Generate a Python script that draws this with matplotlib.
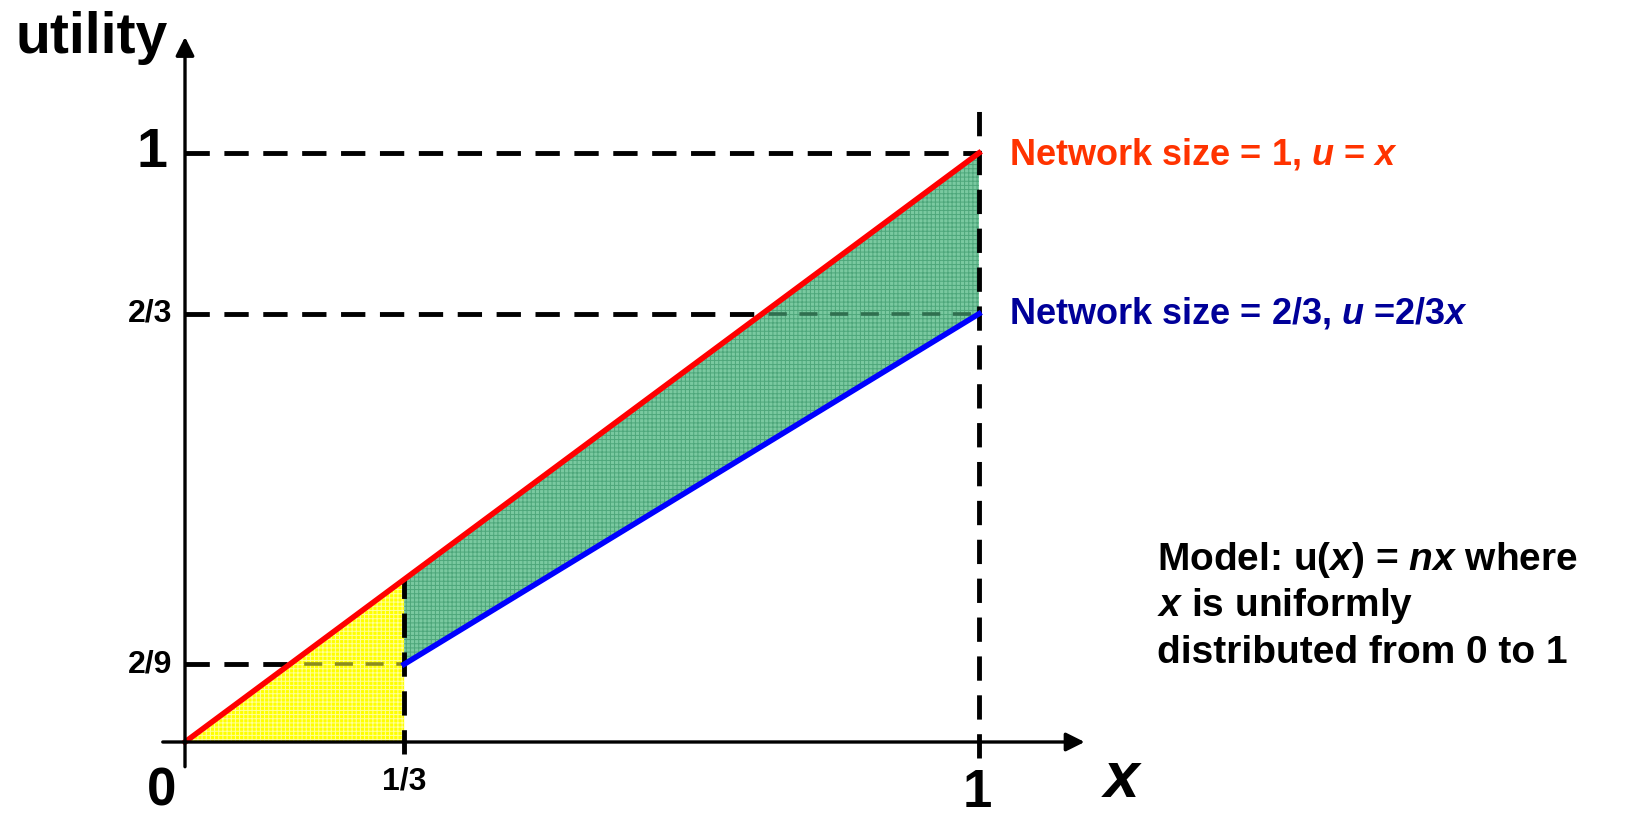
import numpy as np
import matplotlib
matplotlib.use('Agg')
import matplotlib.pyplot as plt

plt.rcParams['font.family'] = ['Liberation Sans', 'DejaVu Sans']
plt.rcParams['font.weight'] = 'bold'
plt.rcParams['mathtext.fontset'] = 'custom'
plt.rcParams['mathtext.rm'] = 'Liberation Sans:bold'
plt.rcParams['mathtext.it'] = 'Liberation Sans:bold:italic'
plt.rcParams['hatch.linewidth'] = 0.7

# network sizes and the break point where the smaller network starts
n_big = 1.0
n_small = 2 / 3
x_cut = 1 / 3

x_big = [0, 1]
u_big = [n_big * v for v in x_big]
x_small = [x_cut, 1]
u_small = [n_small * v for v in x_small]

x_ticks = [0, 1 / 3, 1]
x_ticklabels = ['0', '1/3', '1']
y_ticks = [2 / 9, 2 / 3, 1]
y_ticklabels = ['2/9', '2/3', '1']

model_lines = ['Model: u($x$) = $nx$ where',
               '$x$ is uniformly',
               'distributed from 0 to 1']

# schematic (piecewise linear) axes, the way the sketch is drawn
xk_data = [-1, 0, 1 / 3, 1, 2]
xk_view = [-1, 0, 0.276, 1, 2]
yk_data = [-1, 0, 2 / 9, 1 / 3, 2 / 3, 1, 2]
yk_view = [-1, 0, 0.132, 0.276, 0.727, 1, 2]


def fx(v):
    return np.interp(v, xk_data, xk_view)


def fx_inv(v):
    return np.interp(v, xk_view, xk_data)


def fy(v):
    return np.interp(v, yk_data, yk_view)


def fy_inv(v):
    return np.interp(v, yk_view, yk_data)


fig = plt.figure(figsize=(16.35, 8.15), dpi=100)
ax = fig.add_axes([0, 0, 1, 1])
ax.set_xscale('function', functions=(fx, fx_inv))
ax.set_yscale('function', functions=(fy, fy_inv))
ax.set_xlim(-185 / 794, 1450 / 794)
ax.set_ylim(-73 / 589, 742 / 589)
ax.axis('off')

dash = (0, (5, 3))
dkw = dict(color='black', lw=3.5, ls=dash, zorder=1, dash_capstyle='butt')

y_low = n_small * x_cut

# guide lines (the horizontal ones run under the shading)
ax.plot([0, 1], [1, 1], **dkw)
ax.plot([0, 1], [n_small, n_small], **dkw)
ax.plot([0, x_cut], [y_low, y_low], **dkw)
ax.plot([x_cut, x_cut], [-0.02, n_big * x_cut], **dict(dkw, zorder=2.5))
ax.plot([1, 1], [-0.027, 1.083], **dict(dkw, zorder=2.5))

# shaded areas
yellow = ax.fill_between([0, x_cut], [0, 0], [0, n_big * x_cut],
                         facecolor='#ffff00', edgecolor='#ffff9a',
                         hatch='++++', linewidth=0, zorder=2)
green = ax.fill_between(x_small, u_small, [n_big * v for v in x_small],
                        facecolor='#7ac9a0', edgecolor='#4da67a',
                        hatch='++++', linewidth=0, zorder=2)

# guide pieces seen through the shading
inner = dict(lw=2.6, ls=(1, (5, 3.5)), zorder=2.2)
l1, = ax.plot([0, x_cut], [y_low, y_low], color='#8c8c1e', **inner)
l1.set_clip_path(yellow.get_paths()[0], yellow.get_transform())
l2, = ax.plot([x_cut, 1], [n_small, n_small], color='#2f6f4f', **inner)
l2.set_clip_path(green.get_paths()[0], green.get_transform())

ax.plot(x_big, u_big, color='#ff0000', lw=4, zorder=3)
ax.plot(x_small, u_small, color='#0000ff', lw=4, zorder=3)

# axes with arrow heads
arrow = dict(arrowstyle='-|>', color='black', lw=2.4, mutation_scale=28,
             shrinkA=0, shrinkB=0)
ax.annotate('', xy=(1.133, 0), xytext=(-0.028, 0), arrowprops=arrow, zorder=4)
ax.annotate('', xy=(0, 1.197), xytext=(0, -0.042), arrowprops=arrow, zorder=4)

# tick labels
ax.annotate(x_ticklabels[0], (x_ticks[0], 0), xytext=(-23, -49),
            textcoords='offset pixels', ha='center', va='center', fontsize=38)
ax.annotate(x_ticklabels[1], (x_ticks[1], 0), xytext=(0, -40),
            textcoords='offset pixels', ha='center', va='center', fontsize=23)
ax.annotate(x_ticklabels[2], (x_ticks[2], 0), xytext=(-2, -51),
            textcoords='offset pixels', ha='center', va='center', fontsize=38)
for yv, lab in zip(y_ticks[:2], y_ticklabels[:2]):
    ax.annotate(lab, (0, yv), xytext=(-13, 0), textcoords='offset pixels',
                ha='right', va='center', fontsize=23)
ax.annotate(y_ticklabels[2], (0, y_ticks[2]), xytext=(-18, 0),
            textcoords='offset pixels', ha='right', va='center', fontsize=40)

ax.annotate('$x$', (1, 0), xytext=(143, -38), textcoords='offset pixels',
            ha='center', va='center', fontsize=46)
fig.text(15 / 1635, 1 - 53 / 815, 'utility', fontsize=41, va='baseline',
         ha='left')

# line legends
ax.annotate('Network size = 1, $u$ = $x$', (1, 1), xytext=(30, -12),
            textcoords='offset pixels', ha='left', va='baseline',
            fontsize=26, color='#ff3300')
ax.annotate('Network size = 2/3, $u$ =2/3$x$', (1, n_small), xytext=(30, -10),
            textcoords='offset pixels', ha='left', va='baseline',
            fontsize=26, color='#000099')

for i, line in enumerate(model_lines):
    fig.text(1157 / 1635, 1 - (570 + 46.5 * i) / 815, line,
             fontsize=28, ha='left', va='baseline')

fig.savefig('out.png', dpi=100)
